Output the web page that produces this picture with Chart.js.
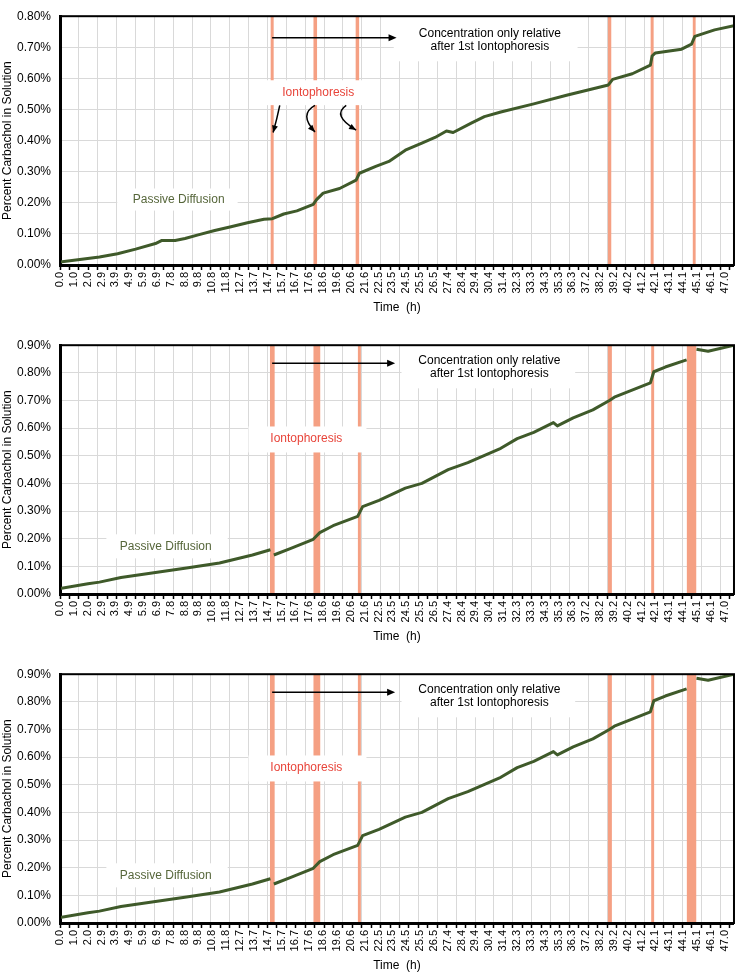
<!DOCTYPE html>
<html>
<head>
<meta charset="utf-8">
<script src="https://cdn.jsdelivr.net/npm/chart.js@4.4.0/dist/chart.umd.min.js"></script>
<style>
html,body{margin:0;padding:0;background:#fff;width:745px;height:973px;overflow:hidden}
.panel{position:absolute;left:0;width:745px;height:315px}
</style>
</head>
<body>
<div class="panel" style="top:0"><canvas id="c1" width="745" height="315"></canvas></div>
<div class="panel" style="top:329px"><canvas id="c2" width="745" height="315"></canvas></div>
<div class="panel" style="top:658px"><canvas id="c3" width="745" height="315"></canvas></div>
<script>
// ====== DATA ======
const TIME_LABELS = ['0.0','1.0','2.0','2.9','3.9','4.9','5.9','6.9','7.8','8.8','9.8','10.8','11.8','12.7','13.7','14.7','15.7','16.7','17.6','18.6','19.6','20.6','21.6','22.5','23.5','24.5','25.5','26.5','27.4','28.4','29.4','30.4','31.4','32.3','33.3','34.3','35.3','36.3','37.2','38.2','39.2','40.2','41.2','42.1','43.1','44.1','45.1','46.1','47.0'];

// top panel (h, %)
const TIME_A = [0,1.40,2.79,4.07,5.35,6.75,7.21,8.14,8.84,9.77,10.94,12.09,13.26,14.42,15.02,15.82,16.75,17.91,18.14,18.61,19.77,20.94,21.17,22.33,23.26,24.42,25.59,26.52,27.33,27.80,29.08,30.01,31.17,33.50,35.82,38.78,39.08,40.47,41.75,41.87,42.10,43.96,44.66,44.89,46.29,47.66];
const CONC_A = [0.010,0.018,0.026,0.036,0.051,0.069,0.079,0.079,0.085,0.097,0.111,0.123,0.136,0.147,0.149,0.164,0.174,0.195,0.210,0.231,0.246,0.273,0.295,0.317,0.333,0.369,0.392,0.410,0.431,0.426,0.456,0.477,0.492,0.518,0.546,0.579,0.597,0.615,0.643,0.672,0.682,0.694,0.710,0.735,0.756,0.769];
const BAND_A_START = [14.88,17.91,20.89,38.73,41.75,44.73];
const BAND_A_END   = [15.12,18.19,21.17,39.00,41.99,44.96];

// middle + bottom panels (same run)
const TIME_B = [0,1.98,2.79,4.31,6.63,8.95,11.28,13.61,14.88,15.00,15.12,16.28,17.91,18.37,19.31,21.05,21.40,22.56,24.42,25.59,27.45,28.84,31.17,32.33,33.50,34.89,35.17,36.29,37.68,38.85,39.20,41.75,41.99,42.80,44.31,44.70,45.01,45.83,47.68];
const CONC_B = [0.020,0.037,0.043,0.060,0.077,0.094,0.112,0.141,0.160,null,0.141,0.164,0.198,0.222,0.247,0.281,0.316,0.339,0.383,0.400,0.450,0.475,0.527,0.562,0.585,0.620,0.608,0.637,0.666,0.700,0.712,0.764,0.804,0.821,0.847,null,0.885,0.878,0.900];
const BAND_B_START = [14.84,17.91,21.05,38.73,41.80,44.31];
const BAND_B_END   = [15.19,18.42,21.28,39.03,42.03,45.01];

// ====== STYLE ======
const FONT = '"Liberation Sans", Arial, sans-serif';
const X_MAX = 47.66;
const LABEL_STEP = 47.0/48;
const GRID_STEP = 1.334;
const LINE_COLOR = '#3f5a2a';
const BAND_COLOR = '#f5a083';
const GRID_COLOR = '#d9d9d9';
const RED = '#e8443a';
const OLIVE = '#56663a';

Chart.defaults.font.family = FONT;
Chart.defaults.color = '#000';

const NOTES_A = {
  boxes:[{x0:23.6,x1:36.6,y0:0.655,y1:0.8},{x0:14.5,x1:21.5,y0:0.514,y1:0.594},{x0:4.05,x1:12.56,y0:0.175,y1:0.246}],
  texts:[{t:'Concentration only relative',x:30.4,y:0.744,c:'#000'},{t:'after 1st Iontophoresis',x:30.4,y:0.702,c:'#000'},
         {t:'Iontophoresis',x:18.26,y:0.554,c:RED},{t:'Passive Diffusion',x:8.39,y:0.210,c:OLIVE}],
  arrow:{x0:15.0,x1:23.8,y:0.731},
  curves:[
    {p0:[15.54,0.513],c:[15.35,0.471],p2:[15.07,0.426]},
    {p0:[18.03,0.513],c:[16.87,0.484],p2:[18.03,0.428]},
    {p0:[20.24,0.513],c:[19.19,0.481],p2:[20.94,0.434]}
  ]
};
const NOTES_B = {
  boxes:[{x0:24.15,x1:36.43,y0:0.744,y1:0.9},{x0:13.33,x1:21.67,y0:0.512,y1:0.606},{x0:3.28,x1:11.86,y0:0.129,y1:0.216}],
  texts:[{t:'Concentration only relative',x:30.36,y:0.844,c:'#000'},{t:'after 1st Iontophoresis',x:30.36,y:0.798,c:'#000'},
         {t:'Iontophoresis',x:17.42,y:0.563,c:RED},{t:'Passive Diffusion',x:7.48,y:0.172,c:OLIVE}],
  arrow:{x0:15.0,x1:23.7,y:0.835},
  curves:[]
};

// ====== UTILS ======
function arrowHead(ctx, tx, ty, ang, len, half){
  ctx.beginPath();
  ctx.moveTo(tx, ty);
  ctx.lineTo(tx - len*Math.cos(ang) + half*Math.sin(ang), ty - len*Math.sin(ang) - half*Math.cos(ang));
  ctx.lineTo(tx - len*Math.cos(ang) - half*Math.sin(ang), ty - len*Math.sin(ang) + half*Math.cos(ang));
  ctx.closePath(); ctx.fill();
}
function notesPlugin(notes){
  return {
    id:'notes',
    afterDatasetsDraw(chart){
      const {ctx, chartArea:a} = chart;
      const xs = chart.scales.x, ys = chart.scales.y;
      const px = v=>xs.getPixelForValue(v), py = v=>ys.getPixelForValue(v);
      ctx.save();
      ctx.fillStyle = '#fff';
      notes.boxes.forEach(b=>ctx.fillRect(px(b.x0), py(b.y1), px(b.x1)-px(b.x0), py(b.y0)-py(b.y1)));
      ctx.font = '12px ' + FONT; ctx.textAlign = 'center'; ctx.textBaseline = 'middle';
      notes.texts.forEach(t=>{ ctx.fillStyle = t.c; ctx.fillText(t.t, px(t.x), py(t.y)); });
      ctx.strokeStyle = '#000'; ctx.fillStyle = '#000'; ctx.lineWidth = 1.5;
      const ar = notes.arrow, ay = py(ar.y);
      ctx.beginPath(); ctx.moveTo(px(ar.x0), ay); ctx.lineTo(px(ar.x1)-6, ay); ctx.stroke();
      arrowHead(ctx, px(ar.x1), ay, 0, 8, 3.5);
      notes.curves.forEach(cv=>{
        const x0=px(cv.p0[0]), y0=py(cv.p0[1]), cx=px(cv.c[0]), cy=py(cv.c[1]), x2=px(cv.p2[0]), y2=py(cv.p2[1]);
        ctx.beginPath(); ctx.moveTo(x0,y0); ctx.quadraticCurveTo(cx,cy,x2,y2); ctx.stroke();
        arrowHead(ctx, x2, y2, Math.atan2(y2-cy, x2-cx), 7, 3);
      });
      ctx.lineWidth = 2; ctx.strokeStyle = '#000';
      ctx.strokeRect(a.left, a.top, a.right-a.left, a.bottom-a.top);
      ctx.restore();
    }
  };
}

// ====== CHARTS ======
function makeChart(id, time, conc, bandStart, bandEnd, yMax, notes){
  const ds = [{
    data: time.map((t,i)=>({x:t, y:conc[i]})),
    borderColor: LINE_COLOR, borderWidth: 3, pointRadius: 0, tension: 0,
    spanGaps: false, fill: false, order: 0, borderJoinStyle: 'round'
  }];
  bandStart.forEach((s,i)=>{
    ds.push({
      data: [{x:s, y:yMax}, {x:bandEnd[i], y:yMax}],
      borderWidth: 0, borderColor: 'rgba(0,0,0,0)', backgroundColor: BAND_COLOR,
      fill: 'origin', pointRadius: 0, order: 1
    });
  });
  return new Chart(document.getElementById(id), {
    type: 'line',
    data: { datasets: ds },
    options: {
      responsive: false, animation: false,
      layout: { padding: { top: 5, right: 2, left: 0, bottom: 0 } },
      plugins: { legend: { display: false }, tooltip: { enabled: false } },
      scales: {
        xg: {
          type: 'linear', position: 'bottom', min: 0, max: X_MAX, weight: -1,
          afterBuildTicks: s=>{ s.ticks = []; for(let k=0; k*GRID_STEP/2 <= X_MAX; k++) s.ticks.push({value: k*GRID_STEP/2}); },
          afterFit: s=>{ s.height = 0; },
          ticks: { display: false },
          grid: { drawOnChartArea: true, color: c=> (c.index % 2 === 0 ? GRID_COLOR : 'rgba(0,0,0,0)'),
                  tickColor: '#000', tickLength: 5, tickWidth: 1.5, lineWidth: 1 },
          border: { display: false }
        },
        x: {
          type: 'linear', position: 'bottom', min: 0, max: X_MAX, weight: 1,
          afterBuildTicks: s=>{ s.ticks = TIME_LABELS.map((_,i)=>({value: i*LABEL_STEP})); },
          afterFit: s=>{ s.height = 50; },
          ticks: { autoSkip: false, minRotation: 90, maxRotation: 90, padding: 7,
                   font: { size: 11 }, callback: (v,i)=>TIME_LABELS[i] },
          grid: { display: false, drawTicks: false },
          border: { display: true, color: '#000', width: 3 },
          title: { display: true, text: 'Time  (h)', font: { size: 12 }, padding: { top: 0, bottom: 0 } }
        },
        y: {
          min: 0, max: yMax,
          afterFit: s=>{ s.width = 60; },
          ticks: { stepSize: 0.1, padding: 9, font: { size: 12 }, callback: v=>v.toFixed(2)+'%' },
          grid: { color: GRID_COLOR, lineWidth: 1, drawTicks: false },
          border: { display: true, color: '#000', width: 3 },
          title: { display: true, text: 'Percent Carbachol in Solution', font: { size: 12 }, padding: { top: 0, bottom: 0 } }
        }
      }
    },
    plugins: [notesPlugin(notes)]
  });
}

makeChart('c1', TIME_A, CONC_A, BAND_A_START, BAND_A_END, 0.8, NOTES_A);
makeChart('c2', TIME_B, CONC_B, BAND_B_START, BAND_B_END, 0.9, NOTES_B);
makeChart('c3', TIME_B, CONC_B, BAND_B_START, BAND_B_END, 0.9, NOTES_B);
</script>
</body>
</html>
